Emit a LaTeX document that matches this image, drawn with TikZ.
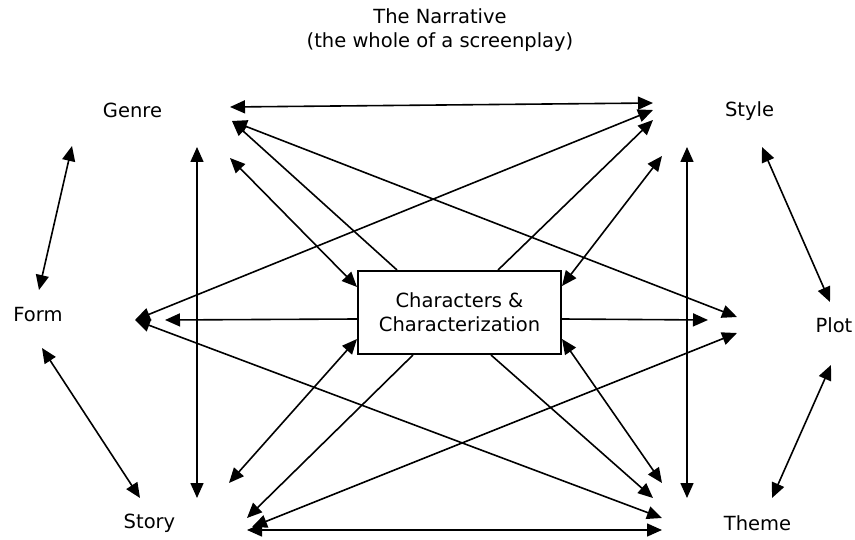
\documentclass[tikz,border=0pt]{standalone}
\usepackage{fontspec}
\setmainfont{DejaVu Sans}
\usetikzlibrary{arrows.meta,calc}
\begin{document}
\begin{tikzpicture}[x=1pt,y=-1pt,
  lbl/.style={anchor=base,font=\fontsize{19.5}{24}\selectfont,inner sep=0pt},
  link/.style={line width=1.6pt},
  dbl/.style={link,{Triangle[length=15pt,width=13pt]}-{Triangle[length=15pt,width=13pt]}},
  sgl/.style={link,-{Triangle[length=15pt,width=13pt]}},
  hub/.style={draw,line width=2pt,fill=white,minimum width=203pt,minimum height=83pt,
    inner sep=0pt,align=center,font=\fontsize{19.5}{24}\selectfont}]
\useasboundingbox (0,0) rectangle (855,540);

% title and element labels
\node[lbl] (title1) at (440,24) {The Narrative};
\node[lbl] (title2) at (440,48) {(the whole of a screenplay)};
\node[lbl] (genre) at (132.5,118) {Genre};
\node[lbl] (style) at (749.5,117) {Style};
\node[lbl] (form)  at (38,322) {Form};
\node[lbl] (plot)  at (834,333) {Plot};
\node[lbl] (story) at (149.5,528) {Story};
\node[lbl] (theme) at (757.5,530) {Theme};

% central box
\node[hub] (box) at (459.5,312.5) {Characters \&\\Characterization};

% attachment points on the box border
\path (box.north west) ++(40,0)  coordinate (bT1);
\path (box.north west) ++(141,0) coordinate (bT2);
\path (box.north west) ++(0,17)  coordinate (bL1);
\path (box.north west) ++(0,49)  coordinate (bL2);
\path (box.north west) ++(0,69)  coordinate (bL3);
\path (box.north east) ++(0,16)  coordinate (bR1);
\path (box.north east) ++(0,49)  coordinate (bR2);
\path (box.north east) ++(0,69)  coordinate (bR3);
\path (box.south west) ++(56,0)  coordinate (bB1);
\path (box.south west) ++(134,0) coordinate (bB2);

% arrow ends around Genre
\coordinate (gS) at (230,107);
\coordinate (gP) at (232,121);
\coordinate (gB) at (230,158);
\coordinate (gV) at (197,147);
\coordinate (gF) at (72,146);
% around Style
\coordinate (sG) at (653,103);
\coordinate (sF) at (653,110);
\coordinate (sB) at (653,120);
\coordinate (sB2) at (662,156);
\coordinate (sV) at (687,147);
\coordinate (sP) at (762,147);
% around Form
\coordinate (fG) at (39,290);
\coordinate (fX) at (135,320);
\coordinate (fB) at (165,320);
\coordinate (fS) at (42,348);
% around Plot
\coordinate (pS) at (830,302);
\coordinate (pB) at (708,320);
\coordinate (pG) at (737,317);
\coordinate (pSt) at (737,333);
\coordinate (pT) at (831,365);
% around Story
\coordinate (tF) at (140,498);
\coordinate (tV) at (197,498);
\coordinate (tB2) at (229,483);
\coordinate (tB) at (247,518);
\coordinate (tP) at (252,527);
\coordinate (tT) at (247,530);
% around Theme
\coordinate (hV) at (687,498);
\coordinate (hP) at (772,498);
\coordinate (hB2) at (662,483);
\coordinate (hB) at (653,498);
\coordinate (hF) at (662,518);
\coordinate (hS) at (662,530);

% outer ring
\draw[dbl] (gS) -- (sG);
\draw[dbl] (gF) -- (fG);
\draw[dbl] (fS) -- (tF);
\draw[dbl] (tT) -- (hS);
\draw[dbl] (hP) -- (pT);
\draw[dbl] (pS) -- (sP);
\draw[dbl] (gV) -- (tV);
\draw[dbl] (sV) -- (hV);

% long diagonals
\draw[dbl] (gP) -- (pG);
\draw[dbl] (fX) -- (sF);
\draw[dbl] (fX) -- (hF);
\draw[dbl] (tP) -- (pSt);

% links from the central box
\draw[sgl] (bT1) -- (gP);
\draw[dbl] (bL1) -- (gB);
\draw[sgl] (bL2) -- (fB);
\draw[dbl] (bL3) -- (tB2);
\draw[sgl] (bB1) -- (tB);
\draw[sgl] (bB2) -- (hB);
\draw[dbl] (bR3) -- (hB2);
\draw[sgl] (bR2) -- (pB);
\draw[dbl] (bR1) -- (sB2);
\draw[sgl] (bT2) -- (sB);
\end{tikzpicture}
\end{document}
